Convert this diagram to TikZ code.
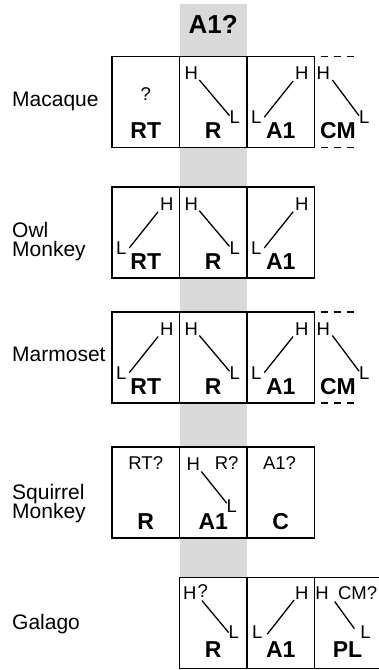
\documentclass[tikz,border=0pt]{standalone}
\usepackage{fontspec}
\setmainfont{Liberation Sans}
\usetikzlibrary{calc}
\definecolor{bandgray}{HTML}{D9D9D9}
\newcommand\tightlines{\lineskiplimit=-30pt\relax\lineskip=0pt\relax}
\tikzset{
  cell/.style={draw, line width=1.7pt, fill=white, minimum width=67.5pt,
    minimum height=91pt, inner sep=0pt, outer sep=0pt},
  hl/.style={font=\fontsize{18.5}{20}\selectfont, inner sep=0pt, outer sep=0pt},
  tag/.style={font=\bfseries\fontsize{23}{25}\selectfont, inner sep=0pt, anchor=base},
  species/.style={font=\fontsize{21}{19.5}\selectfont\tightlines,
    inner sep=0pt, align=left},
  diag/.style={line width=1.3pt},
  openedge/.style={line width=1.7pt, dash pattern=on 7pt off 6pt, dash phase=7pt},
}
\begin{document}
\begin{tikzpicture}[x=1pt, y=-1pt]
\useasboundingbox (0,0) rectangle (378,670);

% shaded column for the putative A1
\fill[bandgray] (179.5,4) rectangle (247,578);
\node[font=\bfseries\fontsize{26}{28}\selectfont, inner sep=0pt, anchor=base] (head) at (213.25,33) {A1?};

% ---------------- Macaque ----------------
\node[species, anchor=base west] (sp1) at (12,106) {Macaque};
\node[cell] (mac1) at (145.75,102) {};
\node[cell] (mac2) at (213.25,102) {};
\node[cell] (mac3) at (280.75,102) {};
\draw[openedge] (mac3.north east) -- ++(42,0);
\draw[openedge] (mac3.south east) -- ++(42,0);
\node[hl, anchor=base] (mac1q) at (145.75,100) {?};
\node[tag] (mac1t) at (145.75,138.5) {RT};
\node[hl, anchor=base west] (mac2h) at (184.5,79.5) {H};
\node[hl, anchor=base west] (mac2l) at (229.5,123.5) {L};
\draw[diag] ($(mac2h.south east)+(1.5,0.5)$) -- ($(mac2l.west)+(0,-1.5)$);
\node[tag] (mac2t) at (213.25,138.5) {R};
\node[hl, anchor=base east] (mac3h) at (308.5,79.5) {H};
\node[hl, anchor=base west] (mac3l) at (251,123.5) {L};
\draw[diag] ($(mac3h.south west)+(-2,1.5)$) -- ($(mac3l.east)+(3,0)$);
\node[tag] (mac3t) at (280.75,138.5) {A1};
\node[hl, anchor=base west] (mac4h) at (316.5,79.5) {H};
\node[hl, anchor=base west] (mac4l) at (359,123.5) {L};
\draw[diag] ($(mac4h.south east)+(2.5,0.5)$) -- ($(mac4l.west)+(0,-1.5)$);
\node[tag] (mac4t) at (338,138.5) {CM};

% ---------------- Owl monkey ----------------
\node[species, anchor=north west] (sp2) at (12,222) {Owl\\Monkey};
\node[cell] (owl1) at (145.75,232.75) {};
\node[cell] (owl2) at (213.25,232.75) {};
\node[cell] (owl3) at (280.75,232.75) {};
\node[hl, anchor=base east] (owl1h) at (173.5,210.25) {H};
\node[hl, anchor=base west] (owl1l) at (116,254.25) {L};
\draw[diag] ($(owl1h.south west)+(-2,1.5)$) -- ($(owl1l.east)+(3,0)$);
\node[tag] (owl1t) at (145.75,269.25) {RT};
\node[hl, anchor=base west] (owl2h) at (184.5,210.25) {H};
\node[hl, anchor=base west] (owl2l) at (229.5,254.25) {L};
\draw[diag] ($(owl2h.south east)+(1.5,0.5)$) -- ($(owl2l.west)+(0,-1.5)$);
\node[tag] (owl2t) at (213.25,269.25) {R};
\node[hl, anchor=base east] (owl3h) at (308.5,210.25) {H};
\node[hl, anchor=base west] (owl3l) at (251,254.25) {L};
\draw[diag] ($(owl3h.south west)+(-2,1.5)$) -- ($(owl3l.east)+(3,0)$);
\node[tag] (owl3t) at (280.75,269.25) {A1};

% ---------------- Marmoset ----------------
\node[species, anchor=base west] (sp3) at (12,361.7) {Marmoset};
\node[cell] (mar1) at (145.75,357.5) {};
\node[cell] (mar2) at (213.25,357.5) {};
\node[cell] (mar3) at (280.75,357.5) {};
\draw[openedge] (mar3.north east) -- ++(42,0);
\draw[openedge] (mar3.south east) -- ++(42,0);
\node[hl, anchor=base east] (mar1h) at (173.5,335) {H};
\node[hl, anchor=base west] (mar1l) at (116,379) {L};
\draw[diag] ($(mar1h.south west)+(-2,1.5)$) -- ($(mar1l.east)+(3,0)$);
\node[tag] (mar1t) at (145.75,394) {RT};
\node[hl, anchor=base west] (mar2h) at (184.5,335) {H};
\node[hl, anchor=base west] (mar2l) at (229.5,379) {L};
\draw[diag] ($(mar2h.south east)+(1.5,0.5)$) -- ($(mar2l.west)+(0,-1.5)$);
\node[tag] (mar2t) at (213.25,394) {R};
\node[hl, anchor=base east] (mar3h) at (308.5,335) {H};
\node[hl, anchor=base west] (mar3l) at (251,379) {L};
\draw[diag] ($(mar3h.south west)+(-2,1.5)$) -- ($(mar3l.east)+(3,0)$);
\node[tag] (mar3t) at (280.75,394) {A1};
\node[hl, anchor=base west] (mar4h) at (316.5,335) {H};
\node[hl, anchor=base west] (mar4l) at (359,379) {L};
\draw[diag] ($(mar4h.south east)+(2.5,0.5)$) -- ($(mar4l.west)+(0,-1.5)$);
\node[tag] (mar4t) at (338,394) {CM};

% ---------------- Squirrel monkey ----------------
\node[species, anchor=north west] (sp4) at (12,484) {Squirrel\\Monkey};
\node[cell] (sqm1) at (145.75,492.5) {};
\node[cell] (sqm2) at (213.25,492.5) {};
\node[cell] (sqm3) at (280.75,492.5) {};
\node[hl, anchor=base] (sqm1q) at (145.75,469.5) {RT?};
\node[tag] (sqm1t) at (145.75,529) {R};
\node[hl, anchor=base west] (sqm2h) at (186.5,470) {H};
\node[hl, anchor=base east] (sqm2q) at (238.5,469.5) {R?};
\node[hl, anchor=base west] (sqm2l) at (226.7,512.5) {L};
\draw[diag] ($(sqm2h.south east)+(1.5,1.5)$) -- ($(sqm2l.west)+(0,-3)$);
\node[tag] (sqm2t) at (213.25,529) {A1};
\node[hl, anchor=base] (sqm3q) at (279.5,469.5) {A1?};
\node[tag] (sqm3t) at (280.75,529) {C};

% ---------------- Galago ----------------
\node[species, anchor=base west] (sp5) at (12,629) {Galago};
\node[cell] (gal1) at (213.25,623) {};
\node[cell] (gal2) at (280.75,623) {};
\node[cell] (gal3) at (348.25,623) {};
\node[hl, anchor=base west] (gal1h) at (183,599.5) {H};
\node[hl, anchor=base west] (gal1q) at (197.5,597) {?};
\node[hl, anchor=base west] (gal1l) at (228.7,638) {L};
\draw[diag] ($(gal1h.south east)+(5.5,1)$) -- ($(gal1l.west)+(0,1)$);
\node[tag] (gal1t) at (213.25,657.5) {R};
\node[hl, anchor=base east] (gal2h) at (308.5,599.5) {H};
\node[hl, anchor=base west] (gal2l) at (252,638) {L};
\draw[diag] ($(gal2h.south west)+(-1,0.5)$) -- ($(gal2l.east)+(5,2.5)$);
\node[tag] (gal2t) at (280.75,657.5) {A1};
\node[hl, anchor=base west] (gal3h) at (315.3,599.5) {H};
\node[hl, anchor=base west] (gal3q) at (338,599.5) {CM?};
\node[hl, anchor=base west] (gal3l) at (360.4,638) {L};
\draw[diag] ($(gal3h.south east)+(6,2)$) -- ($(gal3l.west)+(-6,-3)$);
\node[tag] (gal3t) at (347.5,657.5) {PL};
\end{tikzpicture}
\end{document}
